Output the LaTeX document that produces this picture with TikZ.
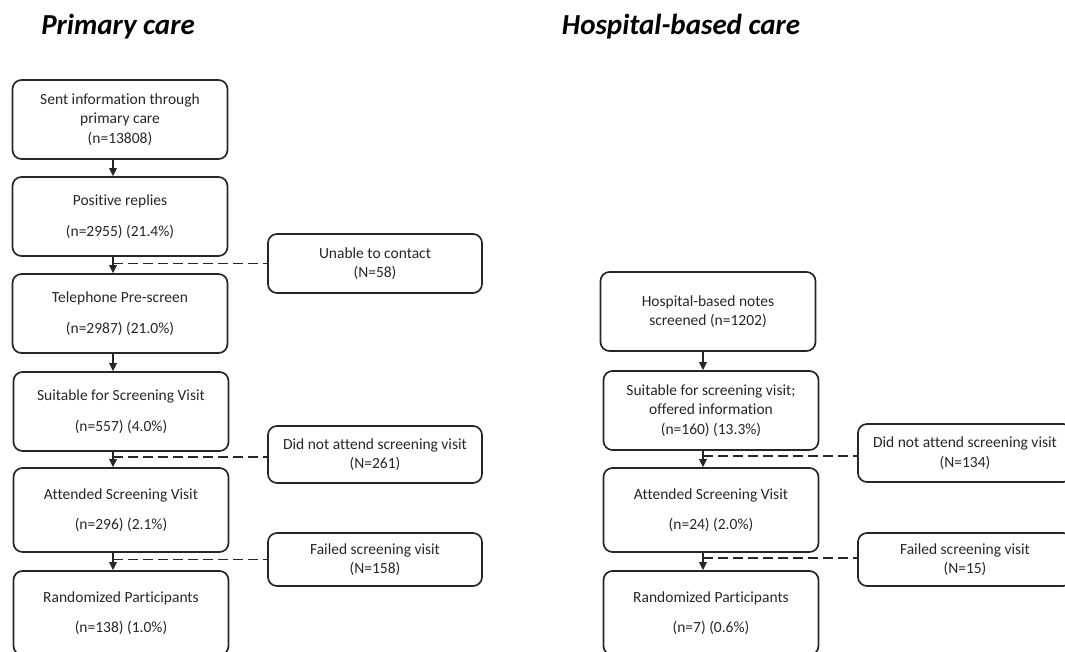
\documentclass[tikz,border=0pt]{standalone}
\usepackage{fontspec}
\setmainfont{Carlito}[Ligatures=NoCommon]
\usetikzlibrary{positioning,arrows.meta,calc}

\begin{document}
\begin{tikzpicture}[x=1pt, y=-1pt,
    box/.style={draw=black!85, line width=1.7pt, rounded corners=9pt, align=center,
        minimum width=215pt, inner sep=2pt, text=black!85,
        font=\fontsize{15.5}{19.5}\selectfont},
    sidebox/.style={box, minimum width=214pt},
    arr/.style={draw=black!85, line width=1.7pt, -{Triangle[length=8pt,width=7.5pt]}},
    dashline/.style={draw=black!85, line width=1.7pt, dash pattern=on 10pt off 5pt},
    title/.style={font=\fontsize{29}{33}\selectfont\bfseries\itshape}]
    \useasboundingbox (0,0) rectangle (1065,652);
    \clip (0,0) rectangle (1065,652);

    % Titles
    \node[title] (ptitle) at (118,27) {Primary care};
    \node[title] (htitle) at (681,27) {Hospital-based care};

    % Primary care
    \coordinate (pa) at (113,0);
    \node[box, minimum height=79pt] (sent) at (120,119.5) {Sent information through\\primary care\\(n=13808)};
    \node[box, minimum height=79pt] (pos) at (120,216.5) {Positive replies\\[11pt](n=2955) (21.4\%)};
    \node[box, minimum height=79pt] (tel) at (120,313.5) {Telephone Pre-screen\\[11pt](n=2987) (21.0\%)};
    \node[box, minimum height=79pt] (suit) at (121,411.5) {Suitable for Screening Visit\\[11pt](n=557) (4.0\%)};
    \node[box, minimum height=84pt] (att) at (121,510) {Attended Screening Visit\\[11pt](n=296) (2.1\%)};
    \node[box, minimum height=84pt] (rand) at (121,613) {Randomized Participants\\[11pt](n=138) (1.0\%)};

    \node[sidebox, minimum height=59pt] (unable) at (375,263.5) {Unable to contact\\(N=58)};
    \node[sidebox, minimum height=57pt] (dna) at (375,454.5) {Did not attend screening visit\\(N=261)};
    \node[sidebox, minimum height=53pt] (fail) at (375,559.5) {Failed screening visit\\(N=158)};

    \foreach \a/\b in {sent/pos, pos/tel, tel/suit, suit/att, att/rand}
        \draw[arr] (\a.south -| pa) -- (\b.north -| pa);
    \foreach \s/\d in {unable/0, dna/2.5, fail/0}
        \draw[dashline] ($(pa |- \s.west)+(0,\d)$) -- ($(\s.west)+(0,\d)$);

    % Hospital-based care
    \coordinate (ha) at (703,0);
    \node[box, minimum height=79pt] (notes) at (708,311.5) {Hospital-based notes\\screened (n=1202)};
    \node[box, minimum height=79pt] (hsuit) at (711,410.5) {Suitable for screening visit;\\offered information\\(n=160) (13.3\%)};
    \node[box, minimum height=84pt] (hatt) at (711,510) {Attended Screening Visit\\[11pt](n=24) (2.0\%)};
    \node[box, minimum height=84pt] (hrand) at (711,613) {Randomized Participants\\[11pt](n=7) (0.6\%)};

    \node[sidebox, minimum height=58pt] (hdna) at (965,453) {Did not attend screening visit\\(N=134)};
    \node[sidebox, minimum height=53pt] (hfail) at (965,559.5) {Failed screening visit\\(N=15)};

    \foreach \a/\b in {notes/hsuit, hsuit/hatt, hatt/hrand}
        \draw[arr] (\a.south -| ha) -- (\b.north -| ha);
    \foreach \s/\d in {hdna/3, hfail/-1.5}
        \draw[dashline] ($(ha |- \s.west)+(0,\d)$) -- ($(\s.west)+(0,\d)$);
\end{tikzpicture}
\end{document}
